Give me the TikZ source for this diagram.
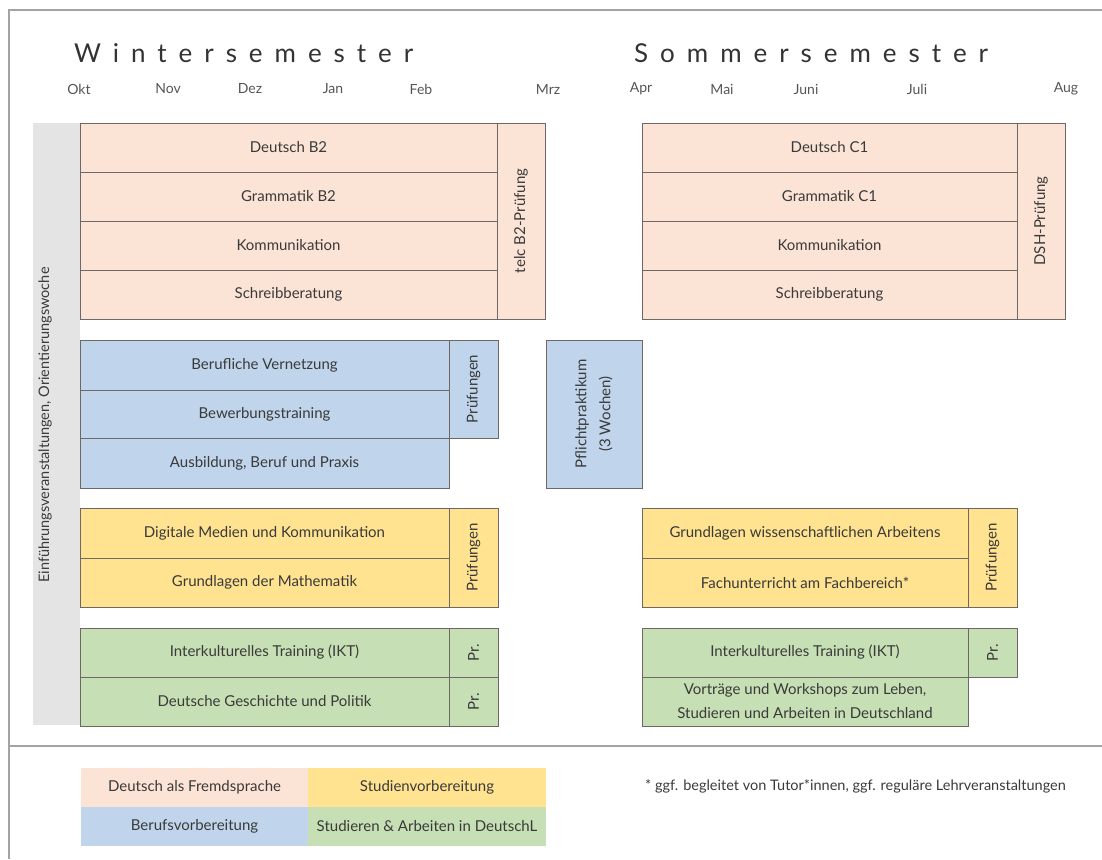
\documentclass[tikz,border=0pt]{standalone}
\usepackage{fontspec}
\setmainfont{Lato}
\definecolor{dafpink}{HTML}{FBE3D6}
\definecolor{berblue}{HTML}{C0D5EC}
\definecolor{stuyel}{HTML}{FFE390}
\definecolor{sagreen}{HTML}{C6DFB4}
\definecolor{cellline}{HTML}{6E6763}
\definecolor{framegray}{HTML}{A3A3A3}
\definecolor{orientgray}{HTML}{E4E4E4}
\definecolor{txt}{HTML}{3A3A3A}
\definecolor{titletxt}{HTML}{333333}
\definecolor{monthtxt}{HTML}{555555}
\tikzset{
  cell/.style={draw=cellline, line width=0.8pt, inner sep=0pt, text=txt, align=center,
    font=\fontsize{15}{24}\selectfont},
  legcell/.style={inner sep=0pt, text=txt, align=center, font=\fontsize{15}{18}\selectfont},
  month/.style={text=monthtxt, font=\fontsize{14}{16}\selectfont, inner sep=0pt},
  semtitle/.style={anchor=base west, inner sep=0pt, text=titletxt,
    font=\fontsize{26}{30}\selectfont\addfontfeature{LetterSpace=46}},
  frameline/.style={draw=framegray, line width=1.5pt}
}
% name, x1, y1, x2, y2, fill, text
\newcommand\hcell[7]{\node[cell, fill=#6, minimum width={(#4-#2)*1pt}, minimum height={(#5-#3)*1pt}] (#1) at ({(#2+#4)/2},{(#3+#5)/2}) {#7};}
\newcommand\vcell[7]{\node[cell, fill=#6, rotate=90, minimum width={(#5-#3)*1pt}, minimum height={(#4-#2)*1pt}] (#1) at ({(#2+#4)/2},{(#3+#5)/2}) {#7};}
\newcommand\lcell[7]{\node[legcell, fill=#6, minimum width={(#4-#2)*1pt}, minimum height={(#5-#3)*1pt}] (#1) at ({(#2+#4)/2},{(#3+#5)/2}) {#7};}
\begin{document}
\begin{tikzpicture}[x=1pt,y=-1pt]
\useasboundingbox (0,0) rectangle (1102,859);
% frame
\coordinate (ftl) at (9,10);
\coordinate (ftr) at (1102,10);
\coordinate (fbl) at (9,859);
\coordinate (fml) at (9,746);
\coordinate (fmr) at (1102,746);
\draw[frameline] (ftr) -- (ftl) -- (fbl);
\draw[frameline] (fml) -- (fmr);
% titles
\node[semtitle] (wstitle) at (74,63) {Wintersemester};
\node[semtitle] (sstitle) at (634,63) {Sommersemester};
% months
\node[month] (mokt) at (79,89) {Okt};
\node[month] (mnov) at (168,89) {Nov};
\node[month] (mdez) at (250,89) {Dez};
\node[month] (mjan) at (333,89) {Jan};
\node[month] (mfeb) at (421,89) {Feb};
\node[month] (mmrz) at (548,89) {Mrz};
\node[month] (mapr) at (641,89) {Apr};
\node[month] (mmai) at (722,89) {Mai};
\node[month] (mjun) at (806,89) {Juni};
\node[month] (mjul) at (917,89) {Juli};
\node[month] (maug) at (1066,89) {Aug};
% orientation bar
\node[fill=orientgray, inner sep=0pt, minimum width=47pt, minimum height=602pt] (orient) at (56.5,424) {};
\node[rotate=90, text=txt, font=\fontsize{14.5}{16}\selectfont, inner sep=0pt] (orienttext) at (45,425) {Einführungsveranstaltungen, Orientierungswoche};
% Deutsch winter
\hcell{dwa}{80}{123}{497}{172}{dafpink}{Deutsch B2}
\hcell{dwb}{80}{172}{497}{221}{dafpink}{Grammatik B2}
\hcell{dwc}{80}{221}{497}{270}{dafpink}{Kommunikation}
\hcell{dwd}{80}{270}{497}{319}{dafpink}{Schreibberatung}
\vcell{dwp}{497}{123}{545}{319}{dafpink}{telc B2-Prüfung}
% Deutsch summer
\hcell{dsa}{642}{123}{1017}{172}{dafpink}{Deutsch C1}
\hcell{dsb}{642}{172}{1017}{221}{dafpink}{Grammatik C1}
\hcell{dsc}{642}{221}{1017}{270}{dafpink}{Kommunikation}
\hcell{dsd}{642}{270}{1017}{319}{dafpink}{Schreibberatung}
\vcell{dsp}{1017}{123}{1065}{319}{dafpink}{DSH-Prüfung}
% Beruf
\hcell{ba}{80}{340}{449}{390}{berblue}{Berufliche Vernetzung}
\hcell{bb}{80}{390}{449}{438}{berblue}{Bewerbungstraining}
\hcell{bc}{80}{438}{449}{488}{berblue}{Ausbildung, Beruf und Praxis}
\vcell{bp}{449}{340}{498}{438}{berblue}{Prüfungen}
\vcell{bprak}{546}{340}{642}{488}{berblue}{Pflichtpraktikum\\(3 Wochen)}
% Studienvorbereitung winter
\hcell{swa}{80}{508}{449}{558}{stuyel}{Digitale Medien und Kommunikation}
\hcell{swb}{80}{558}{449}{607}{stuyel}{Grundlagen der Mathematik}
\vcell{swp}{449}{508}{498}{607}{stuyel}{Prüfungen}
% Studienvorbereitung summer
\hcell{ssa}{642}{508}{968}{558}{stuyel}{Grundlagen wissenschaftlichen Arbeitens}
\hcell{ssb}{642}{558}{968}{607}{stuyel}{Fachunterricht am Fachbereich*}
\vcell{ssp}{968}{508}{1017}{607}{stuyel}{Prüfungen}
% Studieren & Arbeiten winter
\hcell{gwa}{80}{628}{449}{677}{sagreen}{Interkulturelles Training (IKT)}
\hcell{gwb}{80}{677}{449}{726}{sagreen}{Deutsche Geschichte und Politik}
\vcell{gwpa}{449}{628}{498}{677}{sagreen}{Pr.}
\vcell{gwpb}{449}{677}{498}{726}{sagreen}{Pr.}
% Studieren & Arbeiten summer
\hcell{gsa}{642}{628}{968}{677}{sagreen}{Interkulturelles Training (IKT)}
\hcell{gsb}{642}{677}{968}{726}{sagreen}{Vorträge und Workshops zum Leben,\\Studieren und Arbeiten in Deutschland}
\vcell{gspa}{968}{628}{1017}{677}{sagreen}{Pr.}
% legend
\lcell{lpink}{81}{768}{308}{807}{dafpink}{Deutsch als Fremdsprache}
\lcell{lyel}{308}{768}{546}{807}{stuyel}{Studienvorbereitung}
\lcell{lblue}{81}{807}{308}{846}{berblue}{Berufsvorbereitung}
\lcell{lgreen}{308}{807}{546}{846}{sagreen}{Studieren \& Arbeiten in DeutschL}
% footnote
\node[anchor=west, inner sep=0pt, text=txt, font=\fontsize{14.5}{16}\selectfont] (fnote) at (645,786) {* ggf. begleitet von Tutor*innen, ggf. reguläre Lehrveranstaltungen};
\end{tikzpicture}
\end{document}
